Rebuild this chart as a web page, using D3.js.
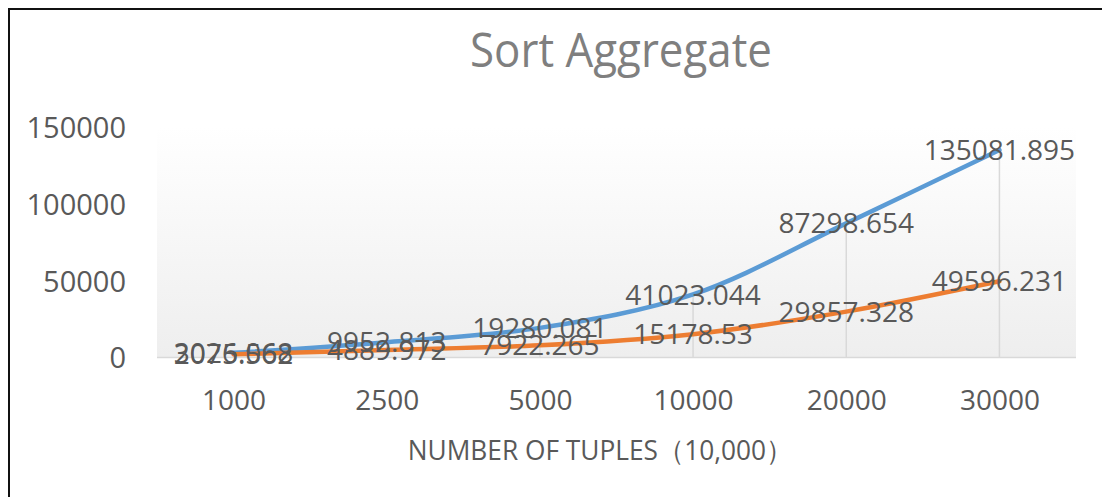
<!DOCTYPE html>
<html>
<head>
<meta charset="utf-8">
<script src="https://cdn.jsdelivr.net/npm/d3@7"></script>
<style>
  body { margin: 0; background: #fff; }
  text { font-family: "Open Sans", "Noto Sans", sans-serif; }
</style>
</head>
<body>
<div id="chart"></div>
<script>
// chart data
var categories = ['1000', '2500', '5000', '10000', '20000', '30000'];
var seriesBlue = [3026.068, 9952.813, 19280.081, 41023.044, 87298.654, 135081.895];
var seriesOrange = [2075.562, 4889.972, 7922.265, 15178.53, 29857.328, 49596.231];
var yTicks = [0, 50000, 100000, 150000];
var chartTitle = 'Sort Aggregate';
var xTitle = 'NUMBER OF TUPLES\uFF0810,000\uFF09';

var width = 1102, height = 497;

var svg = d3.select('#chart').append('svg')
  .attr('width', width)
  .attr('height', height);

// outer frame (runs off the right and bottom edges)
svg.append('rect')
  .attr('x', 9).attr('y', 9)
  .attr('width', 1200).attr('height', 600)
  .style('fill', 'none')
  .style('stroke', '#111')
  .style('stroke-width', 2);

var x = d3.scalePoint()
  .domain(categories)
  .range([157, 1076])
  .padding(0.5);

var y = d3.scaleLinear()
  .domain([0, 150000])
  .range([357.5, 127]);

// plot area gradient
var defs = svg.append('defs');
var grad = defs.append('linearGradient')
  .attr('id', 'plotGrad')
  .attr('x1', 0).attr('y1', 0).attr('x2', 0).attr('y2', 1);
grad.append('stop').attr('offset', '0%').attr('stop-color', '#ffffff');
grad.append('stop').attr('offset', '100%').attr('stop-color', '#eeeeee');

svg.append('rect')
  .attr('x', 157)
  .attr('y', y(150000))
  .attr('width', 1076 - 157)
  .attr('height', y(0) - y(150000))
  .style('fill', 'url(#plotGrad)');

// drop lines from the highest point down to the axis
svg.append('g').selectAll('line')
  .data(categories)
  .enter().append('line')
  .attr('x1', function (d) { return x(d); })
  .attr('x2', function (d) { return x(d); })
  .attr('y1', function (d, i) { return y(Math.max(seriesBlue[i], seriesOrange[i])); })
  .attr('y2', y(0))
  .style('stroke', '#d9d9d9')
  .style('stroke-width', 1.5);

// x axis
var xAxis = svg.append('g')
  .attr('transform', 'translate(0,' + y(0) + ')')
  .call(d3.axisBottom(x).tickSize(0).tickPadding(0));
xAxis.select('.domain')
  .attr('d', 'M157,0H1076')
  .style('stroke', '#d9d9d9')
  .style('stroke-width', 1.5);
xAxis.selectAll('text')
  .attr('y', 52)
  .attr('dy', 0)
  .style('font-size', '28px')
  .style('fill', '#595959');

// y axis (labels only)
var yAxis = svg.append('g')
  .attr('transform', 'translate(126,0)')
  .call(d3.axisLeft(y).tickValues(yTicks).tickFormat(d3.format('d')).tickSize(0).tickPadding(0));
yAxis.select('.domain').remove();
yAxis.selectAll('text')
  .attr('dy', '0.36em')
  .style('font-size', '29px')
  .style('fill', '#595959');

// lines
var line = d3.line()
  .x(function (d, i) { return x(categories[i]); })
  .y(function (d) { return y(d); })
  .curve(d3.curveCatmullRom.alpha(0.5));

svg.append('path')
  .datum(seriesBlue)
  .attr('d', line)
  .style('fill', 'none')
  .style('stroke', '#5b9bd5')
  .style('stroke-width', 4.5)
  .style('stroke-linecap', 'round');

svg.append('path')
  .datum(seriesOrange)
  .attr('d', line)
  .style('fill', 'none')
  .style('stroke', '#ed7d31')
  .style('stroke-width', 4.5)
  .style('stroke-linecap', 'round');

// data labels, centred on points
[seriesBlue, seriesOrange].forEach(function (series) {
  svg.append('g').selectAll('text')
    .data(series)
    .enter().append('text')
    .attr('x', function (d, i) { return x(categories[i]); })
    .attr('y', function (d) { return y(d); })
    .attr('dy', '0.36em')
    .attr('text-anchor', 'middle')
    .style('font-size', '28px')
    .style('fill', '#595959')
    .text(function (d) { return String(d); });
});

// squeeze a text element horizontally to a given width
function fitWidth(sel, cx, baseY, target) {
  var w = sel.node().getComputedTextLength();
  var s = Math.min(1, target / w);
  sel.attr('transform', 'translate(' + cx + ',' + baseY + ') scale(' + s + ',1)');
}

var title = svg.append('text')
  .attr('text-anchor', 'middle')
  .style('font-size', '48px')
  .style('fill', '#7f7f7f')
  .text(chartTitle);
fitWidth(title, 621, 67, 302);

var xt = svg.append('text')
  .attr('text-anchor', 'middle')
  .style('font-size', '28px')
  .style('fill', '#595959')
  .text(xTitle);
fitWidth(xt, 600, 460, 385);
</script>
</body>
</html>
